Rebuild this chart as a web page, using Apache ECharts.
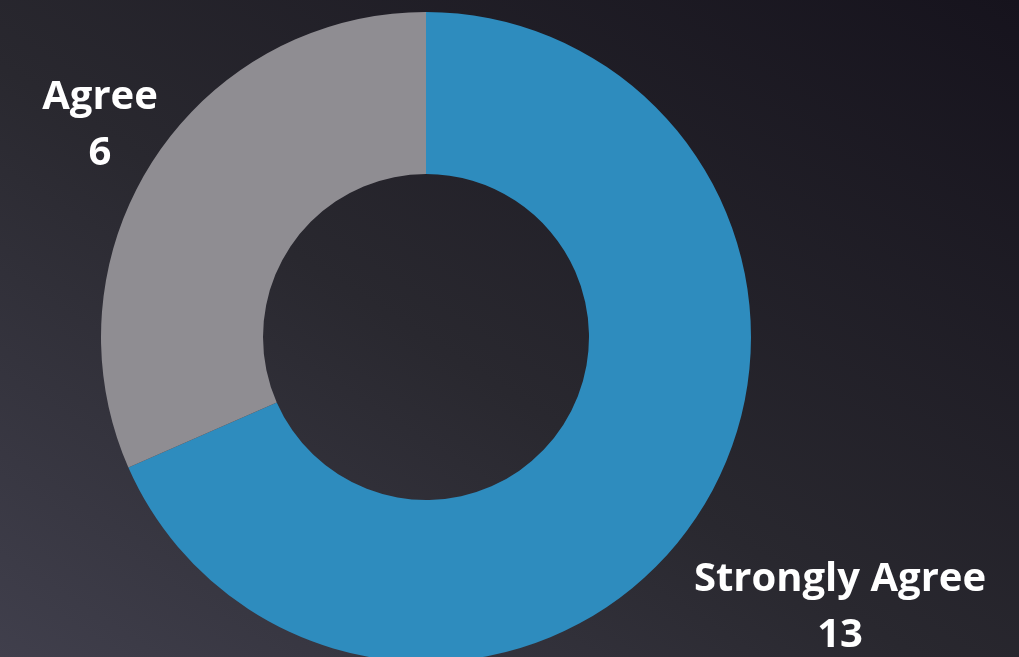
<!DOCTYPE html>
<html>
<head>
<meta charset="utf-8">
<script src="https://cdn.jsdelivr.net/npm/echarts@6/dist/echarts.min.js"></script>
<style>
html,body{margin:0;padding:0;width:1019px;height:657px;overflow:hidden;
background:linear-gradient(to top right,#403f4c 0%,#29282f 45%,#16131d 100%);}
#c{width:1019px;height:657px;}
</style>
</head>
<body>
<div id="c"></div>
<script>
const categories = ['Strongly Agree', 'Agree'];
const values = [13, 6];
const colors = ['#2e8cbe', '#8f8d92'];
const labelSpots = [[840, 608], [100, 126]];

const chart = echarts.init(document.getElementById('c'), null, {renderer: 'canvas'});
chart.setOption({
  backgroundColor: 'transparent',
  animation: false,
  series: [{
    type: 'pie',
    center: [426, 337],
    radius: [163, 325],
    startAngle: 90,
    clockwise: true,
    silent: true,
    avoidLabelOverlap: false,
    itemStyle: {borderWidth: 0},
    label: {
      show: true,
      position: 'outside',
      formatter: '{b}\n{c}',
      color: '#ffffff',
      fontFamily: 'Open Sans',
      fontWeight: 'bold',
      fontSize: 40,
      lineHeight: 56,
      align: 'center',
      overflow: 'none',
      width: 400
    },
    labelLine: {show: false},
    labelLayout: function (p) {
      const s = labelSpots[p.dataIndex];
      return {x: s[0], y: s[1], align: 'center', verticalAlign: 'middle'};
    },
    data: categories.map((n, i) => ({name: n, value: values[i], itemStyle: {color: colors[i]}}))
  }]
});
</script>
</body>
</html>
